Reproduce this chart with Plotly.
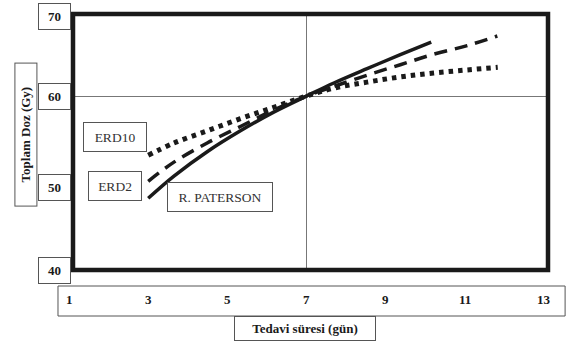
import plotly.graph_objects as go

# ---- data ----
days_paterson = [3.0, 3.65, 4.49, 5.33, 6.17, 7.0, 7.69, 8.53, 9.37, 10.15]
dose_paterson = [48.25, 50.8, 53.6, 56.0, 58.15, 60.0, 61.5, 63.15, 64.75, 66.2]

days_erd2 = [3.0, 3.65, 4.49, 5.33, 6.17, 7.0, 7.69, 8.53, 9.37, 10.21, 11.06, 11.82]
dose_erd2 = [50.2, 52.4, 54.6, 56.5, 58.4, 60.0, 61.1, 62.4, 63.6, 64.8, 65.8, 66.9]

days_erd10 = [3.0, 3.65, 4.49, 5.33, 6.17, 7.0, 7.69, 8.53, 9.37, 10.21, 11.06, 11.83]
dose_erd10 = [53.2, 54.6, 56.0, 57.4, 58.7, 60.0, 60.9, 61.6, 62.2, 62.65, 63.0, 63.3]

x_ticks = [1, 3, 5, 7, 9, 11, 13]
y_ticks = [40, 50, 60, 70]
y_tick_shift = [0, -4, 0, -7]   # label box offsets (px) as drawn in the reference

series_labels = ["ERD10", "ERD2", "R. PATERSON"]
label_x = [2.15, 2.15, 4.82]
label_y = [55.3, 49.7, 48.35]
label_w = [62, 52, 104]

x_title = "Tedavi süresi (gün)"
y_title = "Toplam Doz (Gy)"

X_RANGE = [1.1, 13.1]
Y_RANGE = [40, 69.43]


def xpaper(v):
    return (v - X_RANGE[0]) / (X_RANGE[1] - X_RANGE[0])


def ypaper(v):
    return (v - Y_RANGE[0]) / (Y_RANGE[1] - Y_RANGE[0])


SERIF = "Liberation Serif, Times New Roman, serif"
INK = "#1a1a1a"

fig = go.Figure()
fig.add_trace(go.Scatter(x=days_paterson, y=dose_paterson, mode="lines",
                         line=dict(color=INK, width=3.5, shape="spline", smoothing=1.0),
                         showlegend=False, hoverinfo="skip"))
fig.add_trace(go.Scatter(x=days_erd2, y=dose_erd2, mode="lines",
                         line=dict(color=INK, width=3.5, dash="13px,8px", shape="spline", smoothing=1.0),
                         showlegend=False, hoverinfo="skip"))
fig.add_trace(go.Scatter(x=days_erd10, y=dose_erd10, mode="lines",
                         line=dict(color=INK, width=5, dash="4.5px,5px", shape="spline", smoothing=1.0),
                         showlegend=False, hoverinfo="skip"))

annotations = []
# x tick labels
for v in x_ticks:
    annotations.append(dict(x=xpaper(v), xref="paper", y=-0.117, yref="paper", text="<b>%d</b>" % v,
                            showarrow=False, xanchor="center", yanchor="middle",
                            font=dict(family=SERIF, size=13, color=INK)))
# y tick labels in boxes
for v, s in zip(y_ticks, y_tick_shift):
    annotations.append(dict(x=-0.04, xref="paper", y=ypaper(v), yref="paper", yshift=s,
                            text="<b>%d</b>" % v, showarrow=False,
                            xanchor="center", yanchor="middle",
                            width=31, height=25, borderpad=0,
                            bordercolor="#555", borderwidth=1, bgcolor="white",
                            font=dict(family=SERIF, size=13, color=INK)))
# series labels in boxes
for t, lx, ly, w in zip(series_labels, label_x, label_y, label_w):
    annotations.append(dict(x=lx, xref="x", y=ly, yref="y", text=t,
                            showarrow=False, xanchor="center", yanchor="middle",
                            width=w, height=28, borderpad=0,
                            bordercolor="#555", borderwidth=1, bgcolor="white",
                            font=dict(family=SERIF, size=13.5, color="#333")))
# axis titles
annotations.append(dict(x=0.488, xref="paper", y=-0.227, yref="paper",
                        text="<b>%s</b>" % x_title, showarrow=False,
                        xanchor="center", yanchor="middle",
                        width=140, height=23, borderpad=0,
                        bordercolor="#555", borderwidth=1,
                        font=dict(family=SERIF, size=13, color=INK)))
annotations.append(dict(x=-0.1, xref="paper", y=0.527, yref="paper",
                        text="<b>%s</b>" % y_title, showarrow=False,
                        textangle=-90, xanchor="center", yanchor="middle",
                        width=142, height=21, borderpad=0,
                        bordercolor="#555", borderwidth=1,
                        font=dict(family=SERIF, size=13, color=INK)))

shapes = [
    # box around x tick labels
    dict(type="rect", xref="paper", yref="paper",
         x0=-0.0316, x1=1.036, y0=-0.1797, y1=-0.0625,
         line=dict(color="#555", width=1), layer="below"),
    # thick plot frame
    dict(type="rect", xref="paper", yref="paper", x0=0, x1=1, y0=0, y1=1,
         line=dict(color=INK, width=4.5)),
]

fig.update_layout(
    width=569, height=344,
    margin=dict(l=73, r=21, t=14, b=74),
    paper_bgcolor="white", plot_bgcolor="white",
    xaxis=dict(range=X_RANGE, tickvals=[7], showticklabels=False,
               showgrid=True, gridcolor="#777", gridwidth=1,
               zeroline=False, showline=False, ticks=""),
    yaxis=dict(range=Y_RANGE, tickvals=[60], showticklabels=False,
               showgrid=True, gridcolor="#777", gridwidth=1,
               zeroline=False, showline=False, ticks=""),
    annotations=annotations, shapes=shapes,
)

fig.write_html("out.html", config={"displayModeBar": False},
               post_script="document.body.style.margin='0';document.body.style.overflow='hidden';")
